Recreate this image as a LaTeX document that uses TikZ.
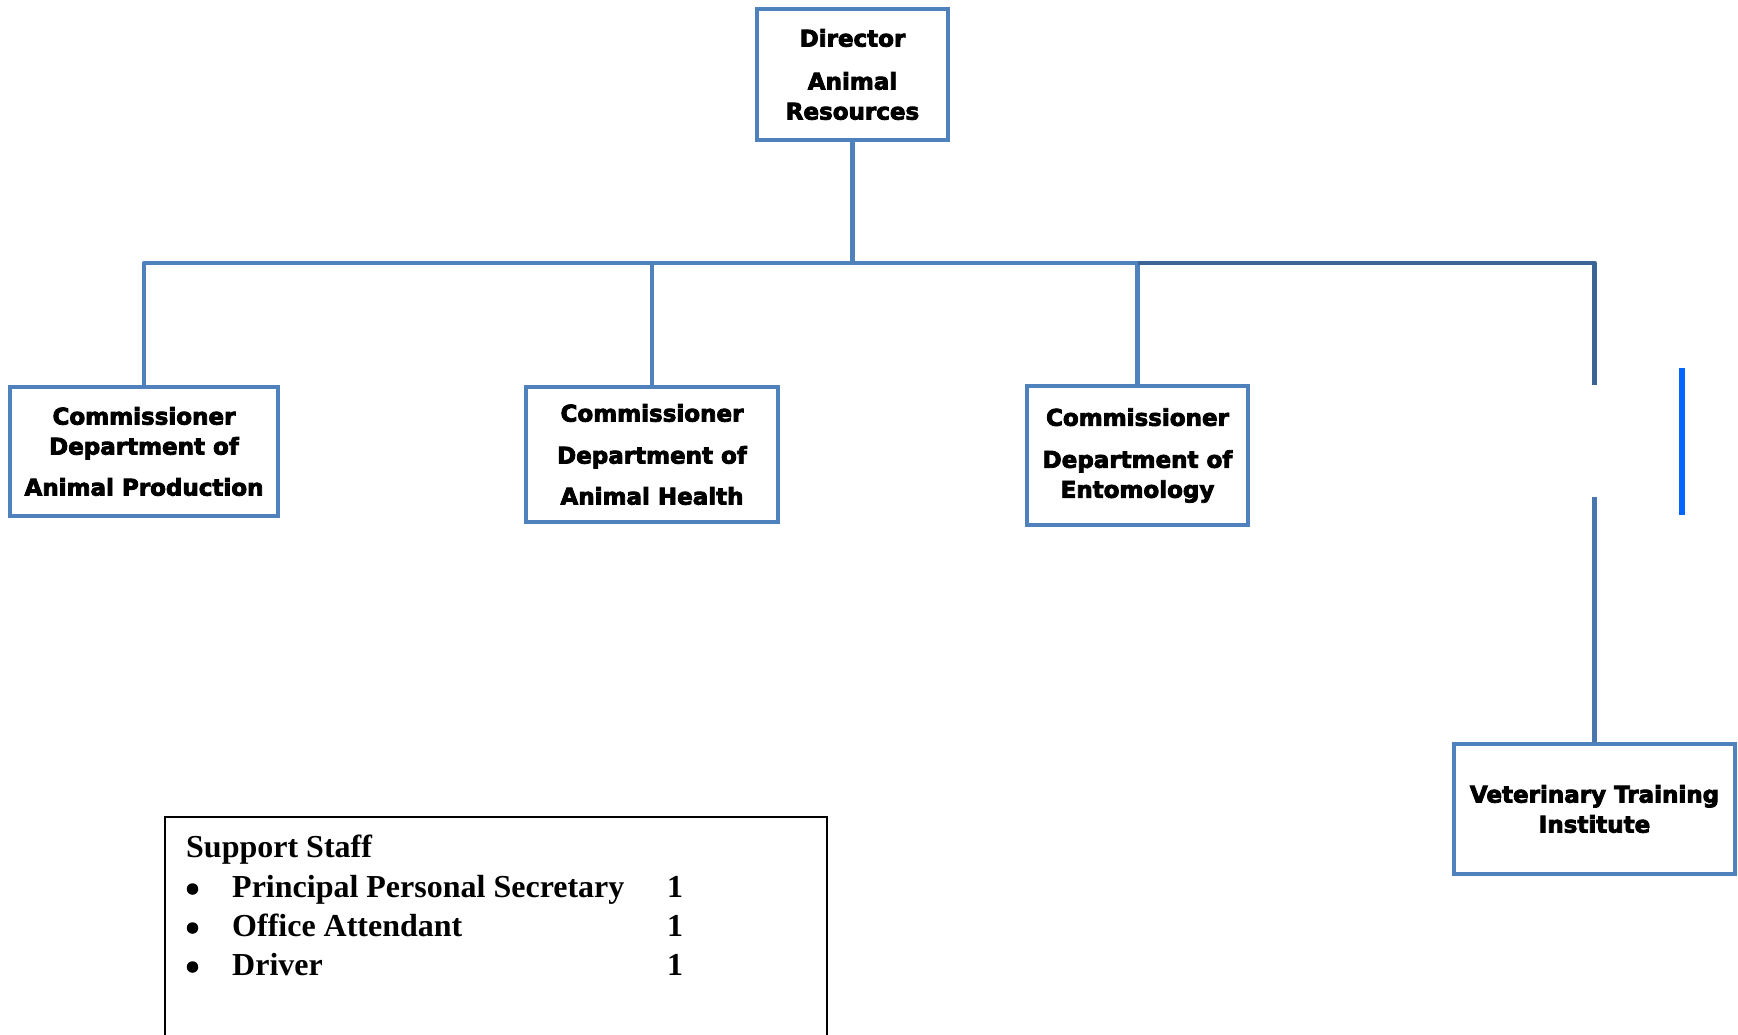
\documentclass[tikz,border=0pt]{standalone}
\usepackage{fontspec}
\setmainfont{Liberation Serif}
\newfontfamily\boxfont[FakeBold=3.5]{DejaVu Sans}
\definecolor{boxblue}{RGB}{79,129,189}
\definecolor{darkline}{RGB}{58,99,150}
\definecolor{midline}{RGB}{74,118,176}
\definecolor{brightblue}{RGB}{0,102,255}
\tikzset{
  orgbox/.style={draw=boxblue, line width=4pt, fill=white, rectangle,
    inner sep=0pt, align=center, text=black,
    font=\boxfont\bfseries\fontsize{23}{30}\selectfont},
  link/.style={draw=boxblue, line width=4.8pt, line join=round},
  darklink/.style={draw=darkline, line width=4.8pt, line join=round},
  stafftext/.style={anchor=base west, inner sep=0pt,
    font=\bfseries\fontsize{32}{38}\selectfont},
  bulletmark/.style={circle, fill=black, inner sep=0pt, minimum size=11.5pt}
}
\begin{document}
\begin{tikzpicture}[x=1pt, y=-1pt]
\useasboundingbox (0,0) rectangle (1738,1034);
\clip (0,0) rectangle (1738,1034);

% organisation boxes
\node[orgbox, minimum width=191pt, minimum height=131pt] (dir) at (852.5,74.5)
  {Director\\[13pt]Animal\\Resources};
\node[orgbox, minimum width=268pt, minimum height=129pt] (prod) at (144,451.5)
  {Commissioner\\Department of\\[11pt]Animal Production};
\node[orgbox, minimum width=252pt, minimum height=135pt] (health) at (652,454.5)
  {Commissioner\\[12pt]Department of\\[11pt]Animal Health};
\node[orgbox, minimum width=221pt, minimum height=139pt] (ento) at (1137.5,455.5)
  {Commissioner\\[12pt]Department of\\Entomology};
\node[orgbox, minimum width=281pt, minimum height=130pt] (vti) at (1594.5,809)
  {Veterinary Training\\Institute};

% connectors
\coordinate (hub) at (852.5,263);
\coordinate (gaptop) at (1594.5,385);
\coordinate (gapbot) at (1594.5,497);
\draw[link] (dir.south) -- (hub);
\draw[link] (prod.north) |- (hub);
\draw[link] (health.north) -- (health.north |- hub);
\draw[link] (ento.north) |- (hub);
\draw[darklink] (ento.north |- hub) -| (gaptop);
\draw[draw=midline, line width=4.8pt] (gapbot) -- (vti.north);

% separate blue bar
\coordinate (bartop) at (1682,368);
\coordinate (barbot) at (1682,515);
\draw[draw=brightblue, line width=6pt] (bartop) -- (barbot);

% support staff panel
\node[draw=black, line width=1.5pt, rectangle, minimum width=662pt,
  minimum height=243pt, inner sep=0pt] (staff) at (496,938.5) {};
\node[stafftext] (sshead) at (186,857) {Support Staff};
\node[bulletmark] (b1) at (192.5,889) {};
\node[bulletmark] (b2) at (192.5,928) {};
\node[bulletmark] (b3) at (192.5,967) {};
\node[stafftext] (s1) at (232,897) {Principal Personal Secretary};
\node[stafftext] (s2) at (232,936) {Office Attendant};
\node[stafftext] (s3) at (232,975) {Driver};
\node[stafftext] (n1) at (667,897) {1};
\node[stafftext] (n2) at (667,936) {1};
\node[stafftext] (n3) at (667,975) {1};
\end{tikzpicture}
\end{document}
